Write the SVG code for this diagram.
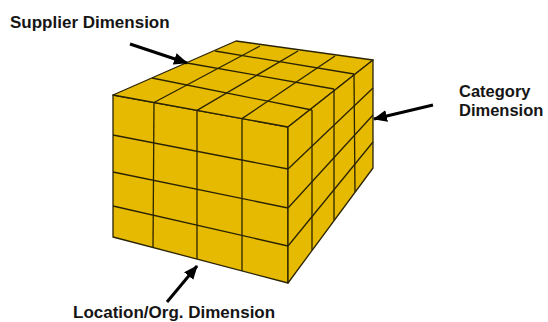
<svg xmlns="http://www.w3.org/2000/svg" width="548" height="322" viewBox="0 0 548 322">
<style>
.face{fill:#E6BA00;stroke:#2a2300;stroke-width:1.3;stroke-linejoin:round}
.grid{stroke:#2a2300;stroke-width:1.3;fill:none}
.lbl{font-family:"Liberation Sans",Arial,sans-serif;font-weight:bold;font-size:17px;fill:#151515}
.lbl2{font-size:16.5px}
.arr{stroke:#000;stroke-width:3;fill:none}
</style>
<defs>
<marker id="ah" markerUnits="userSpaceOnUse" markerWidth="14" markerHeight="12" refX="13" refY="6" orient="auto">
<path d="M0,0 L14,6 L0,12 z" fill="#000"/>
</marker>
</defs>
<rect width="548" height="322" fill="#fff"/>
<g id="cube">
<polygon class="face" points="113,95 288,127 288,283 113,237"/>
<polygon class="face" points="113,95 236,41 373,60 288,127"/>
<polygon class="face" points="288,127 373,60 373,168 288,283"/>
<g class="grid">
<line x1="154" y1="102.5" x2="153" y2="248"/>
<line x1="197" y1="110.4" x2="197" y2="259"/>
<line x1="242" y1="118.6" x2="242" y2="271"/>
<line x1="113" y1="135" x2="288" y2="169"/>
<line x1="113" y1="172" x2="288" y2="208"/>
<line x1="113" y1="206" x2="288" y2="246"/>
<line x1="154" y1="102.5" x2="260" y2="46"/>
<line x1="197" y1="110.4" x2="298" y2="51"/>
<line x1="242" y1="118.6" x2="335" y2="56"/>
<line x1="152" y1="78" x2="312" y2="110"/>
<line x1="187" y1="63" x2="334" y2="89"/>
<line x1="215" y1="51" x2="354" y2="74"/>
<line x1="312" y1="110" x2="312" y2="250"/>
<line x1="334" y1="89" x2="334" y2="220"/>
<line x1="354" y1="74" x2="355" y2="192"/>
<line x1="288" y1="169" x2="373" y2="88"/>
<line x1="288" y1="208" x2="373" y2="115"/>
<line x1="288" y1="246" x2="373" y2="142"/>
</g>
</g>
<g id="connectors">
<line class="arr" x1="130" y1="44" x2="187" y2="63" marker-end="url(#ah)"/>
<line class="arr" x1="433" y1="105" x2="374" y2="119" marker-end="url(#ah)"/>
<line class="arr" x1="167" y1="302" x2="197" y2="266" marker-end="url(#ah)"/>
</g>
<g id="label-supplier"><text class="lbl" x="10" y="28">Supplier Dimension</text></g>
<g id="label-category"><text class="lbl lbl2" x="459" y="97">Category</text><text class="lbl lbl2" x="459" y="116">Dimension</text></g>
<g id="label-location"><text class="lbl" x="73" y="318">Location/Org. Dimension</text></g>
</svg>
